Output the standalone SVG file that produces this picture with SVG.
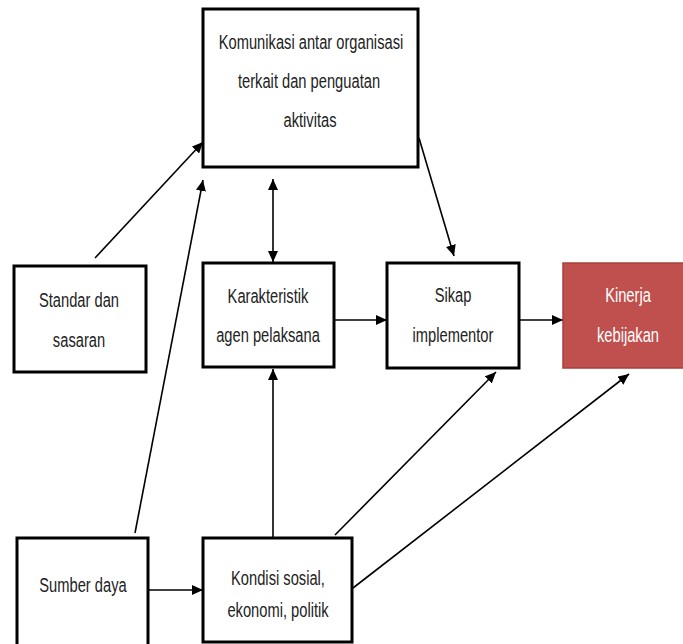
<svg xmlns="http://www.w3.org/2000/svg" width="683" height="644" viewBox="0 0 683 644">
<style>
.box{fill:#fff;stroke:#000;stroke-width:3}
.red{fill:#c0504d;stroke:#a9403d;stroke-width:1.5}
.t{font-family:"Liberation Sans",Arial,sans-serif;font-size:21px;text-anchor:middle;fill:#222}
.w{fill:#fff}
.c{stroke:#000;stroke-width:1.6;fill:none;marker-end:url(#ah)}
.cs{marker-start:url(#as)}
</style>
<defs>
<marker id="ah" markerUnits="userSpaceOnUse" markerWidth="12" markerHeight="10" refX="11" refY="5" orient="auto">
<path d="M0,0 L11,5 L0,10 z" fill="#000"/>
</marker>
<marker id="as" markerUnits="userSpaceOnUse" markerWidth="12" markerHeight="10" refX="1" refY="5" orient="auto">
<path d="M12,0 L1,5 L12,10 z" fill="#000"/>
</marker>
</defs>
<g id="connectors">
<line class="c" x1="95" y1="258" x2="203" y2="142"/>
<line class="c" x1="135" y1="533" x2="203" y2="180"/>
<line class="c cs" x1="273" y1="179" x2="273" y2="262"/>
<line class="c" x1="273" y1="538" x2="273" y2="369"/>
<line class="c" x1="334" y1="320" x2="387" y2="320"/>
<line class="c" x1="519" y1="320" x2="563" y2="320"/>
<line class="c" x1="419" y1="138" x2="454" y2="256"/>
<line class="c" x1="335" y1="535" x2="496" y2="372"/>
<line class="c" x1="353" y1="588" x2="629" y2="374"/>
<line class="c" x1="148" y1="590" x2="203" y2="590"/>
</g>
<g id="komunikasi">
<rect class="box" x="203" y="9" width="215" height="158"/>
<text class="t" transform="translate(311,49) scale(0.7,1)">Komunikasi antar organisasi</text>
<text class="t" transform="translate(309,88) scale(0.7,1)">terkait dan penguatan</text>
<text class="t" transform="translate(310,127) scale(0.7,1)">aktivitas</text>
</g>
<g id="standar">
<rect class="box" x="14" y="266" width="132" height="106"/>
<text class="t" transform="translate(79,307) scale(0.7,1)">Standar dan</text>
<text class="t" transform="translate(79,347) scale(0.7,1)">sasaran</text>
</g>
<g id="karakteristik">
<rect class="box" x="203" y="263" width="131" height="104"/>
<text class="t" transform="translate(268,303) scale(0.7,1)">Karakteristik</text>
<text class="t" transform="translate(268,342) scale(0.7,1)">agen pelaksana</text>
</g>
<g id="sikap">
<rect class="box" x="387" y="263" width="132" height="105"/>
<text class="t" transform="translate(453,302) scale(0.7,1)">Sikap</text>
<text class="t" transform="translate(453,342) scale(0.7,1)">implementor</text>
</g>
<g id="kinerja">
<rect class="red" x="563" y="263" width="122" height="105"/>
<text class="t w" transform="translate(628,302) scale(0.7,1)">Kinerja</text>
<text class="t w" transform="translate(628,342) scale(0.7,1)">kebijakan</text>
</g>
<g id="sumber">
<rect class="box" x="17" y="538" width="131" height="108"/>
<text class="t" transform="translate(83,592) scale(0.7,1)">Sumber daya</text>
</g>
<g id="kondisi">
<rect class="box" x="203" y="538" width="149" height="104"/>
<text class="t" transform="translate(278,585) scale(0.7,1)">Kondisi sosial,</text>
<text class="t" transform="translate(278,617) scale(0.7,1)">ekonomi, politik</text>
</g>
</svg>
